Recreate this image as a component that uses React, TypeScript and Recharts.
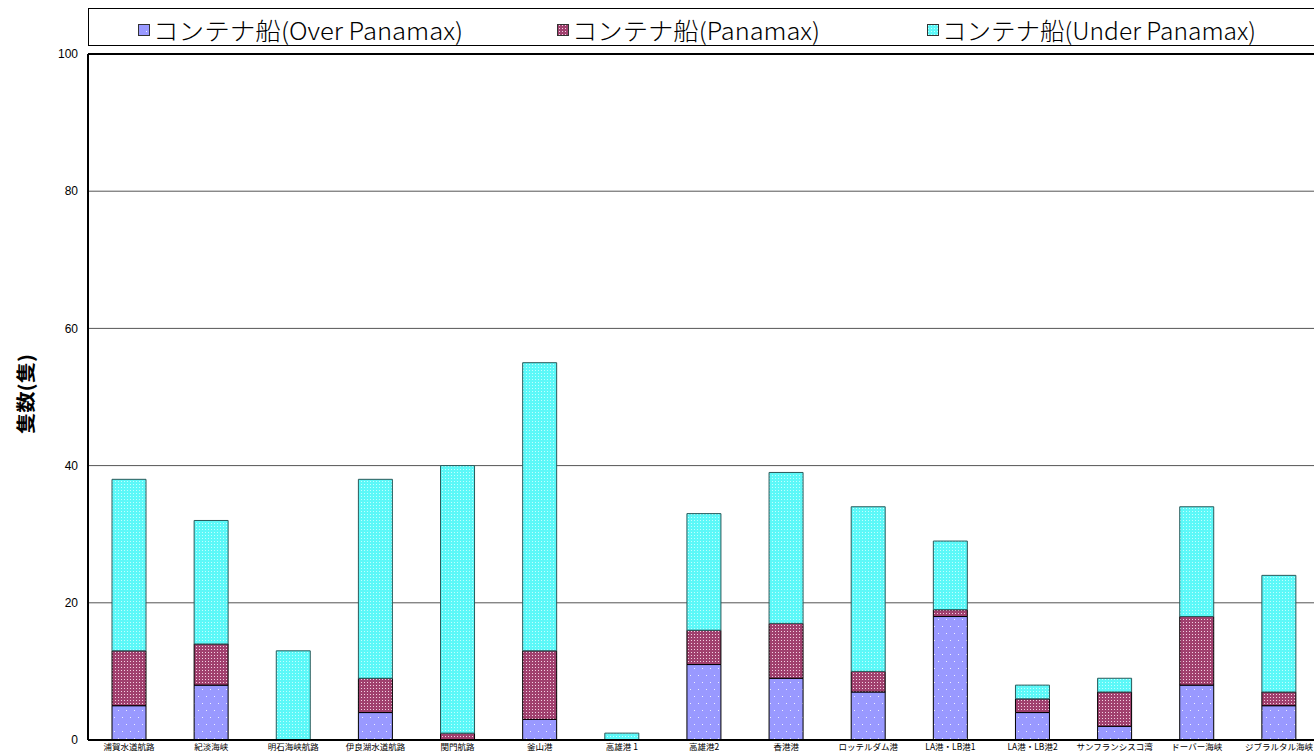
import { BarChart, Bar, XAxis, YAxis, CartesianGrid, ReferenceLine } from "recharts";

const categories = [
  "浦賀水道航路",
  "紀淡海峡",
  "明石海峡航路",
  "伊良湖水道航路",
  "関門航路",
  "釜山港",
  "高雄港 1",
  "高雄港2",
  "香港港",
  "ロッテルダム港",
  "LA港・LB港1",
  "LA港・LB港2",
  "サンフランシスコ湾",
  "ドーバー海峡",
  "ジブラルタル海峡",
];
const overPanamax = [5, 8, 0, 4, 0, 3, 0, 11, 9, 7, 18, 4, 2, 8, 5];
const panamax = [8, 6, 0, 5, 1, 10, 0, 5, 8, 3, 1, 2, 5, 10, 2];
const underPanamax = [25, 18, 13, 29, 39, 42, 1, 17, 22, 24, 10, 2, 2, 16, 17];
const yTicks = [0, 20, 40, 60, 80, 100];

const seriesNames = [
  "コンテナ船(Over Panamax)",
  "コンテナ船(Panamax)",
  "コンテナ船(Under Panamax)",
];

const data = categories.map((name, i) => ({
  name,
  over: overPanamax[i],
  pana: panamax[i],
  under: underPanamax[i],
}));

// legend item placement: [swatch x, text start, text end]
const legendPos = [
  [138, 153, 463],
  [557, 572, 820],
  [927, 942, 1256],
];
const fills = ["url(#pOver)", "url(#pPana)", "url(#pUnder)"];

const Patterns = () => (
  <svg width={0} height={0} style={{ position: "absolute" }}>
    <defs>
      <pattern id="pOver" width={8} height={14} patternUnits="userSpaceOnUse">
        <rect width={8} height={14} fill="#9999FF" />
        <rect x={2} y={3} width={1} height={1} fill="#EEEEFF" />
        <rect x={6} y={10} width={1} height={1} fill="#EEEEFF" />
      </pattern>
      <pattern id="pPana" width={3} height={3} patternUnits="userSpaceOnUse">
        <rect width={3} height={3} fill="#A0406E" />
        <rect x={1} y={1} width={1} height={1} fill="#F4D0E2" />
      </pattern>
      <pattern id="pUnder" width={3} height={3} patternUnits="userSpaceOnUse">
        <rect width={3} height={3} fill="#5CF8F8" />
        <rect x={1} y={1} width={1} height={1} fill="#C0FFFF" />
      </pattern>
    </defs>
  </svg>
);

export default function App() {
  return (
    <div
      style={{
        position: "fixed",
        left: 0,
        top: 0,
        width: 1314,
        height: 755,
        overflow: "hidden",
        background: "#fff",
      }}
    >
      <Patterns />
      <BarChart
        width={1330}
        height={755}
        data={data}
        margin={{ top: 54, right: 10, bottom: 0, left: 0 }}
        barSize={34}
      >
        <CartesianGrid vertical={false} stroke="#555" />
        <XAxis
          dataKey="name"
          height={15}
          interval={0}
          tickLine={false}
          tickSize={0}
          tickMargin={4}
          axisLine={{ stroke: "#000", strokeWidth: 2 }}
          tick={{ fontSize: 8.5, fill: "#000", fontFamily: "Noto Sans CJK JP" }}
        />
        <YAxis
          domain={[0, 100]}
          ticks={yTicks}
          width={88}
          tickLine={false}
          tickSize={0}
          tickMargin={10}
          axisLine={{ stroke: "#000", strokeWidth: 2 }}
          tick={{ fontSize: 12, fill: "#000", fontFamily: "Liberation Sans" }}
          label={{
            content: () => (
              <text
                x={24}
                y={394}
                transform="rotate(-90 24 394)"
                textAnchor="middle"
                dominantBaseline="central"
                fontSize={19}
                fontWeight="bold"
                fontFamily="Noto Sans CJK JP"
                fill="#000"
                textLength={80}
                lengthAdjust="spacingAndGlyphs"
              >
                隻数(隻)
              </text>
            ),
          }}
        />
        <ReferenceLine y={100} stroke="#000" strokeWidth={2} />
        <Bar dataKey="over" stackId="a" fill={fills[0]} stroke="#000" strokeWidth={1} isAnimationActive={false} />
        <Bar dataKey="pana" stackId="a" fill={fills[1]} stroke="#000" strokeWidth={1} isAnimationActive={false} />
        <Bar dataKey="under" stackId="a" fill={fills[2]} stroke="#2a5a5a" strokeWidth={1} isAnimationActive={false} />
      </BarChart>
      <svg width={1314} height={50} style={{ position: "absolute", left: 0, top: 0 }}>
        <rect x={88.5} y={8.5} width={1300} height={37} fill="#fff" stroke="#000" />
        {seriesNames.map((s, i) => (
          <g key={s}>
            <rect
              x={legendPos[i][0] + 0.5}
              y={24.5}
              width={11}
              height={11}
              fill={fills[i]}
              stroke="#333"
            />
            <text
              x={legendPos[i][1]}
              y={29}
              dominantBaseline="central"
              fontSize={24}
              fontFamily="Noto Sans CJK JP"
              fontWeight={300}
              fill="#000"
              textLength={legendPos[i][2] - legendPos[i][1]}
              lengthAdjust="spacingAndGlyphs"
            >
              {s}
            </text>
          </g>
        ))}
      </svg>
    </div>
  );
}
